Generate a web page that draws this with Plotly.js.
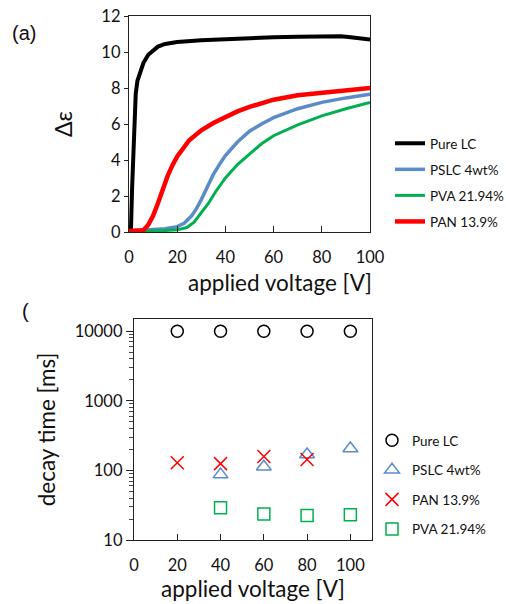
<!DOCTYPE html>
<html><head><meta charset="utf-8">
<script src="https://cdn.plot.ly/plotly-3.0.1.min.js"></script>
<style>html,body{margin:0;padding:0;background:#fff;overflow:hidden}#plot{width:506px;height:604px;overflow:hidden}</style>
</head><body><div id="plot"></div>
<script>
// ---- panel (a): dielectric anisotropy vs applied voltage ----
const vPure = [0,0.8,1.3,1.8,2.3,2.8,3.5,4.8,6,8,10,12,15,20,30,40,50,60,70,80,88,92,96,100];
const epsPure = [0.05,0.1,2.5,4.9,6.5,7.7,8.4,9.0,9.4,9.85,10.1,10.3,10.45,10.55,10.65,10.72,10.78,10.82,10.85,10.87,10.87,10.82,10.78,10.7];

const vPSLC = [0,5,10,15,20,23,26,28,30,32,35,38,40,45,50,55,60,70,80,90,100];
const epsPSLC = [0.05,0.08,0.12,0.18,0.3,0.5,0.9,1.3,1.8,2.4,3.2,3.85,4.25,5.0,5.6,6.0,6.35,6.85,7.2,7.45,7.65];

const vPVA = [0,5,10,15,20,24,27,30,33,36,40,45,50,55,60,70,80,90,100];
const epsPVA = [0.02,0.03,0.05,0.08,0.12,0.25,0.55,1.05,1.6,2.25,3.0,3.75,4.35,4.9,5.35,5.95,6.45,6.85,7.2];

const vPAN = [0,4,6,8,10,12,14,16,18,20,25,30,35,40,45,50,60,70,80,90,100];
const epsPAN = [0.05,0.05,0.1,0.4,0.9,1.6,2.4,3.1,3.7,4.2,5.1,5.65,6.05,6.4,6.7,6.95,7.35,7.6,7.75,7.9,8.0];

// ---- panel (b): decay time vs applied voltage ----
const vDecay = [20,40,60,80,100];
const tPure = [10000,10000,10000,10000,10000];
const vDecayPSLC = [40,60,80,100];
const tPSLC = [87,113,169,206];
const tPAN = [129,125,158,143];
const vDecayPVA = [40,60,80,100];
const tPVA = [29,23.7,22.5,23];

const xTicks = [0,20,40,60,80,100];
const yTicksA = [0,2,4,6,8,10,12];
const yTicksB = [10,100,1000,10000];

const names = ['Pure LC','PSLC 4wt%','PVA 21.94%','PAN 13.9%'];
const C = {black:'#000000', blue:'#5B8BC9', green:'#00B050', red:'#FF0000'};

const FONT = 'Lato, "Open Sans", sans-serif';

const minorB = [];
for (let d=10; d<10000; d*=10) for (let k=2;k<=9;k++) minorB.push(k*d);

const traces = [
  {x:vPure, y:epsPure, name:names[0], mode:'lines', line:{color:C.black,width:4}, xaxis:'x', yaxis:'y', legend:'legend', legendgroup:'a1'},
  {x:vPSLC, y:epsPSLC, name:names[1], mode:'lines', line:{color:C.blue,width:3.5}, xaxis:'x', yaxis:'y', legend:'legend', legendgroup:'a2'},
  {x:vPVA, y:epsPVA, name:names[2], mode:'lines', line:{color:C.green,width:3}, xaxis:'x', yaxis:'y', legend:'legend', legendgroup:'a3'},
  {x:vPAN, y:epsPAN, name:names[3], mode:'lines', line:{color:C.red,width:4.5}, xaxis:'x', yaxis:'y', legend:'legend', legendgroup:'a4'},

  {x:vDecay, y:tPure, name:'Pure LC', mode:'markers', marker:{symbol:'circle-open',size:12,color:C.black,line:{width:1.5}}, xaxis:'x2', yaxis:'y2', legend:'legend2', legendgroup:'b1'},
  {x:vDecayPSLC, y:tPSLC, name:'PSLC 4wt%', mode:'markers', marker:{symbol:'triangle-up-open',size:13,color:C.blue,line:{width:1.5}}, xaxis:'x2', yaxis:'y2', legend:'legend2', legendgroup:'b2'},
  {x:vDecay, y:tPAN, name:'PAN 13.9%', mode:'markers', marker:{symbol:'x-thin-open',size:13,color:C.red,line:{width:1.5,color:C.red}}, xaxis:'x2', yaxis:'y2', legend:'legend2', legendgroup:'b3'},
  {x:vDecayPVA, y:tPVA, name:'PVA 21.94%', mode:'markers', marker:{symbol:'square-open',size:12,color:C.green,line:{width:1.5}}, xaxis:'x2', yaxis:'y2', legend:'legend2', legendgroup:'b4'}
];

const W=506, H=604;
const dx = (a,b)=>[a/W,b/W];
const dy = (top,bot)=>[(H-bot)/H,(H-top)/H];

const axLine = {showline:true, linecolor:'#222', linewidth:1.2, mirror:true, showgrid:false, zeroline:false,
  tickfont:{family:FONT,size:16.5,color:'#111'}, automargin:false};

const layout = {
  width:W, height:H, margin:{l:0,r:0,t:0,b:0,autoexpand:false},
  paper_bgcolor:'#fff', plot_bgcolor:'#fff',
  font:{family:FONT,color:'#111'},
  xaxis: Object.assign({}, axLine, {domain:dx(129,370), anchor:'y', range:[0,100], tickvals:xTicks,
    ticks:'inside', ticklen:6, tickcolor:'#222', ticklabelstandoff:10}),
  yaxis: Object.assign({}, axLine, {domain:dy(16,232), anchor:'x', range:[0,12], tickvals:yTicksA,
    ticks:'outside', ticklen:4, tickcolor:'#222',
    title:{text:'Δε', font:{family:FONT,size:23,color:'#111'}, standoff:22}}),
  xaxis2: Object.assign({}, axLine, {domain:dx(134,372), anchor:'y2', range:[0,110], tickvals:xTicks,
    ticks:'inside', ticklen:6, tickcolor:'#222', ticklabelstandoff:10,
    title:{text:'applied voltage [V]', font:{family:FONT,size:22.5,color:'#111'}, standoff:0}}),
  yaxis2: Object.assign({}, axLine, {domain:dy(319,540), anchor:'x2', type:'log', range:[1,4.175], tickvals:yTicksB,
    ticktext:['10','100','1000','10000'],
    ticks:'outside', ticklen:7, tickcolor:'#222',
    minor:{tickvals:minorB, ticks:'outside', ticklen:4, tickcolor:'#444'},
    title:{text:'decay time [ms]', font:{family:FONT,size:22.5,color:'#111'}, standoff:12}}),
  showlegend:true,
  legend:{x:390/W, y:(H-128)/H, xanchor:'left', yanchor:'top', bgcolor:'rgba(0,0,0,0)',
    font:{family:FONT,size:13.5,color:'#111'}, traceorder:'grouped', tracegroupgap:5.5, itemwidth:30},
  legend2:{x:372/W, y:(H-425)/H, xanchor:'left', yanchor:'top', bgcolor:'rgba(0,0,0,0)',
    font:{family:FONT,size:13.5,color:'#111'}, traceorder:'grouped', tracegroupgap:9, itemwidth:30},
  annotations:[
    {text:'applied voltage [V]', x:280/W, y:(H-282)/H, xref:'paper', yref:'paper', showarrow:false,
      font:{family:FONT,size:22.5,color:'#111'}, xanchor:'center', yanchor:'middle'},
    {text:'(a)', x:10/W, y:(H-33)/H, xref:'paper', yref:'paper', showarrow:false,
      font:{family:'"Liberation Sans", Arial, sans-serif',size:20,color:'#111'}, xanchor:'left', yanchor:'middle'},
    {text:'(', x:20/W, y:(H-311)/H, xref:'paper', yref:'paper', showarrow:false,
      font:{family:'"Liberation Sans", Arial, sans-serif',size:20,color:'#111'}, xanchor:'left', yanchor:'middle'}
  ]
};

Plotly.newPlot('plot', traces, layout, {staticPlot:true, displayModeBar:false});
</script>
</body></html>
